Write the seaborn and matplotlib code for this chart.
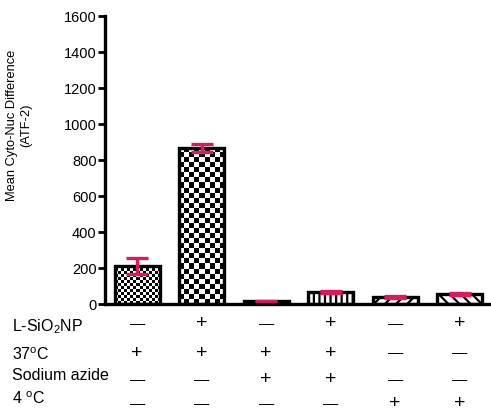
import numpy as np
import pandas as pd
import matplotlib
matplotlib.use('Agg')
import matplotlib.pyplot as plt
import matplotlib.transforms as mtransforms
import seaborn as sns

# data
groups = ['g1', 'g2', 'g3', 'g4', 'g5', 'g6']
means = [213, 867, 15, 67, 40, 55]
errs = [45, 22, 3, 8, 5, 6]
hatches = ['check_fine', 'check', '///', '|||', '///', '\\\\\\']

row_labels = ['L-SiO$_2$NP', '37$^{\\rm o}$C', 'Sodium azide', '4 $^{\\rm o}$C']
signs = [['-', '+', '-', '+', '-', '+'],
         ['+', '+', '+', '+', '-', '-'],
         ['-', '-', '+', '+', '-', '-'],
         ['-', '-', '-', '-', '+', '+']]

sns.set_style('ticks')
plt.rcParams['font.family'] = ['Liberation Sans', 'DejaVu Sans']
plt.rcParams['mathtext.fontset'] = 'custom'
plt.rcParams['mathtext.rm'] = 'Liberation Sans'
plt.rcParams['mathtext.it'] = 'Liberation Sans'
plt.rcParams['hatch.linewidth'] = 1.6
for k in ['text.color', 'axes.labelcolor', 'xtick.color', 'ytick.color', 'axes.edgecolor']:
    plt.rcParams[k] = 'black'

pink = '#DC1860'

df = pd.DataFrame({'group': groups, 'mean': means})

fig = plt.figure(figsize=(4.91, 4.13), dpi=100)
ax = fig.add_axes([105 / 491, 1 - 304 / 413, 385 / 491, 288 / 413])

sns.barplot(data=df, x='group', y='mean', color='white', width=0.7,
            edgecolor='black', linewidth=2.4, errorbar=None, ax=ax)

ax.errorbar(np.arange(len(groups)), means, yerr=errs, fmt='none',
            ecolor=pink, elinewidth=2.4, capsize=8, capthick=2.4, zorder=5)

ax.set_xlim(-0.5, 5.47)
ax.set_ylim(0, 1600)
ax.set_yticks(range(0, 1601, 200))
ax.set_xticks([])
ax.set_xlabel('')
ax.set_ylabel('')
sns.despine(ax=ax)
for s in ['left', 'bottom']:
    ax.spines[s].set_linewidth(2.4)
    ax.spines[s].set_zorder(6)
ax.tick_params(axis='y', length=5, width=2, labelsize=10.5, pad=1)

fig.canvas.draw()
bars = ax.patches[:len(groups)]
for patch, h in zip(bars, hatches):
    if h.startswith('check'):
        cell = 3 if h == 'check_fine' else 5
        ext = patch.get_window_extent()
        nx = max(1, int(round(ext.width / cell)))
        ny = max(1, int(round(ext.height / cell)))
        board = (np.add.outer(np.arange(ny), np.arange(nx)) % 2).astype(float)
        bb = patch.get_bbox()
        im = ax.imshow(board, extent=(bb.x0, bb.x1, bb.y0, bb.y1), cmap='gray_r',
                       interpolation='nearest', aspect='auto', origin='lower',
                       zorder=patch.get_zorder() - 0.1)
        im.set_clip_path(patch)
        patch.set_facecolor('none')
    else:
        patch.set_hatch(h)
ax.set_xlim(-0.5, 5.47)
ax.set_ylim(0, 1600)

# y label
fig.text(19 / 491, 1 - 125 / 413, 'Mean Cyto-Nuc Difference\n(ATF-2)',
         rotation=90, ha='center', va='center', fontsize=9.3, linespacing=1.2)

# condition table under the bars
trans = mtransforms.blended_transform_factory(ax.transData, fig.transFigure)
label_y = [327, 355, 375, 399]
sign_y = [324, 353, 380, 404]
for r in range(len(row_labels)):
    fig.text(12 / 491, 1 - label_y[r] / 413, row_labels[r], ha='left',
             va='center', fontsize=11.5)
    for c in range(len(groups)):
        if signs[r][c] == '-':
            ax.text(c, 1 - sign_y[r] / 413, '\u2014', transform=trans,
                    ha='center', va='center', fontsize=11)
        else:
            ax.text(c, 1 - sign_y[r] / 413, '+', transform=trans,
                    ha='center', va='center', fontsize=14)

fig.savefig('out.png', dpi=100)
